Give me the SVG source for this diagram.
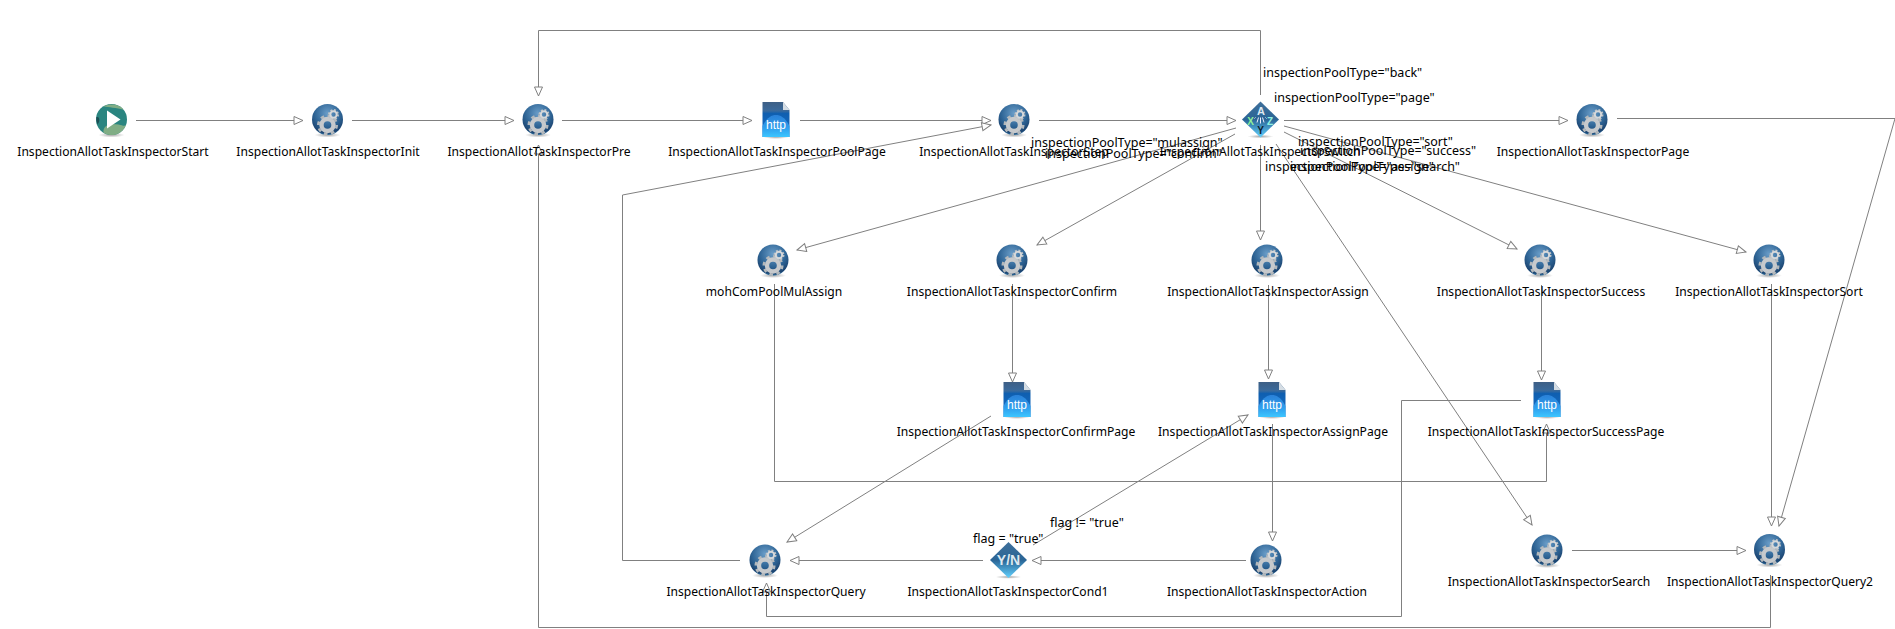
<svg xmlns="http://www.w3.org/2000/svg" xmlns:xlink="http://www.w3.org/1999/xlink" width="1895" height="629" viewBox="0 0 1895 629">
<style>
.bg{fill:#fff}
.e{fill:none;stroke:#808080;stroke-width:1;marker-end:url(#arr)}
text{font-family:"Noto Sans","DejaVu Sans",sans-serif;font-size:12.5px;fill:#000}
.n{text-anchor:middle;font-size:12.1px}
.ic{font-family:"Liberation Sans",sans-serif;font-weight:bold;fill:#fff;text-anchor:middle}
</style>
<defs>
<marker id="arr" markerUnits="userSpaceOnUse" markerWidth="12" markerHeight="12" refX="9.5" refY="5" orient="auto" overflow="visible"><path d="M0.5,1 L9.5,5 L0.5,9 Z" fill="#fff" stroke="#808080" stroke-width="1"/></marker>
<radialGradient id="gb" cx="0.5" cy="0.3" r="0.75"><stop offset="0" stop-color="#6a9dc8"/><stop offset="0.55" stop-color="#2f6596"/><stop offset="0.85" stop-color="#1c4470"/><stop offset="1" stop-color="#3f9ad0"/></radialGradient>
<linearGradient id="gf" x1="0" y1="0" x2="0" y2="1"><stop offset="0" stop-color="#3e5f85"/><stop offset="0.25" stop-color="#3a6a9c"/><stop offset="0.33" stop-color="#0f5fb0"/><stop offset="1" stop-color="#1a70c8"/></linearGradient>
<linearGradient id="gdome" x1="0" y1="0" x2="0" y2="1"><stop offset="0" stop-color="#2a80d8"/><stop offset="0.6" stop-color="#2fa0ee"/><stop offset="1" stop-color="#3cc6ff"/></linearGradient>
<linearGradient id="gd" x1="0" y1="0" x2="0" y2="1"><stop offset="0" stop-color="#3f6f9a"/><stop offset="0.5" stop-color="#2a6596"/><stop offset="1" stop-color="#62d2ff"/></linearGradient>
<radialGradient id="gs"><stop offset="0" stop-color="#000" stop-opacity="0.35"/><stop offset="1" stop-color="#000" stop-opacity="0"/></radialGradient>
<symbol id="gear" viewBox="-20 -20 40 40" width="40" height="40" overflow="visible">
<ellipse cx="0" cy="15.5" rx="13" ry="2.5" fill="url(#gs)"/>
<circle r="15.5" fill="url(#gb)"/>
<circle cx="0" cy="5.5" r="9.2" fill="none" stroke="#b4b8bb" stroke-width="2.6" stroke-dasharray="3.6 3.6"/>
<circle cx="0" cy="5.5" r="6" fill="none" stroke="#c6c9cc" stroke-width="4.4"/>
<circle cx="6" cy="-5" r="4.6" fill="none" stroke="#bfc3c6" stroke-width="1.8" stroke-dasharray="1.9 1.7"/>
<circle cx="6" cy="-5" r="3.2" fill="none" stroke="#d6d8da" stroke-width="2"/>
</symbol>
<symbol id="start" viewBox="-20 -20 40 40" width="40" height="40" overflow="visible">
<ellipse cx="0" cy="15.5" rx="13" ry="2.5" fill="url(#gs)"/>
<circle r="15.5" fill="#2a8580"/>
<path d="M-8,13.3 C-9,5 -1,4 7,5 C11,6 13,7 14.5,5.5 A15.5,15.5 0 0 1 -8,13.3Z" fill="#80ad85"/>
<path d="M-8,-13.3 C-2,-16 8,-16 12,-9.8 C5,-12 -3,-12 -8,-13.3Z" fill="#80ad85"/>
<path d="M-15.3,-2 C-12,-4 -11,2 -14,5 A15.5,15.5 0 0 1 -15.3,-2Z" fill="#1c4f55"/>
<path d="M-4.5,-9 L9,0 L-4.5,9 Z" fill="#fff"/>
</symbol>
<symbol id="http" viewBox="-20 -20 40 40" width="40" height="40" overflow="visible">
<ellipse cx="0" cy="17" rx="13" ry="2" fill="url(#gs)"/>
<path d="M-13.5,-18 L7,-18 L13.5,-10 L13.5,17 L-13.5,17 Z" fill="url(#gf)"/>
<path d="M-13.5,17 L-13.5,6 C-9,-3 -4,-5 0,-5 C4,-5 9,-3 13.5,6 L13.5,17 Z" fill="url(#gdome)"/>
<path d="M7,-18 L13.5,-10 L7,-10 Z" fill="#d5dde4"/>
<text class="ic" x="0" y="9" style="font-size:12px;font-weight:normal">http</text>
</symbol>
<symbol id="xor" viewBox="-20 -20 40 40" width="40" height="40" overflow="visible">
<ellipse cx="0" cy="17" rx="13" ry="1.8" fill="url(#gs)"/>
<path d="M0,-18 L18.5,0 L0,18 L-18.5,0 Z" fill="url(#gd)"/>
<text class="ic" x="0.5" y="-5" style="font-size:11px;fill:#dfe9f2">A</text>
<text class="ic" x="-10" y="5.5" style="font-size:10px;fill:#8ff09a">X</text>
<text class="ic" x="9.5" y="5.5" style="font-size:10px;fill:#8ff0e0">Z</text>
<text class="ic" x="0" y="14" style="font-size:10px;fill:#10202c">Y</text>
<path d="M-3.5,3 L-2,-2 M3.5,3 L2,-2 M0,-2 L0,4 M-6,-1 L-5,-2 M6,-1 L5,-2" stroke="#eef" stroke-width="1" fill="none"/>
</symbol>
<symbol id="cond" viewBox="-20 -20 40 40" width="40" height="40" overflow="visible">
<ellipse cx="0" cy="17" rx="13" ry="1.8" fill="url(#gs)"/>
<path d="M0,-18 L18.5,0 L0,18 L-18.5,0 Z" fill="url(#gd)"/>
<text class="ic" x="0" y="5" style="font-size:14px;fill:#dce8f0">Y/N</text>
</symbol>
</defs>
<rect class="bg" width="1895" height="629"/>
<g id="connectors">
<path class="e" d="M136,120.5H303"/>
<path class="e" d="M352,120.5H514"/>
<path class="e" d="M562,120.5H752"/>
<path class="e" d="M800,120.5H991"/>
<path class="e" d="M1039,120.5H1236"/>
<path class="e" d="M1284,120.5H1568"/>
<path class="e" d="M1617,118.5H1895L1779,526"/>
<path class="e" d="M1260.5,95V30.5H538.5V96"/>
<path class="e" d="M1236,128L797,250"/>
<path class="e" d="M1235,134L1037,245"/>
<path class="e" d="M1260.5,145V240"/>
<path class="e" d="M1284,132L1517,249"/>
<path class="e" d="M1284,126L1746,252"/>
<path class="e" d="M1276,144L1532,525"/>
<path class="e" d="M1771.5,284V526"/>
<path class="e" d="M1572,550.5H1746"/>
<path class="e" d="M1012.5,284V382"/>
<path class="e" d="M1268.5,285V379"/>
<path class="e" d="M1541.5,285V380"/>
<path class="e" d="M774.5,284V481.5H1546.5V424"/>
<path class="e" d="M1521,400.5H1401.5V616.5H766.5V583"/>
<path class="e" d="M1272.5,424V541"/>
<path class="e" d="M991,416L787,542"/>
<path class="e" d="M1246,560.5H1032"/>
<path class="e" d="M983,560.5H790"/>
<path class="e" d="M1033,545L1248,415"/>
<path class="e" d="M740,560.5H622.5V195L991,125"/>
<path class="e" d="M1770.5,575V627.5H538.5V145"/>
</g>
<g id="InspectionAllotTaskInspectorStart"><use href="#start" x="91.5" y="99.5"/><text class="n" x="113" y="156">InspectionAllotTaskInspectorStart</text></g>
<g id="InspectionAllotTaskInspectorInit"><use href="#gear" x="307.5" y="99.5"/><text class="n" x="328" y="156">InspectionAllotTaskInspectorInit</text></g>
<g id="InspectionAllotTaskInspectorPre"><use href="#gear" x="518" y="99.5"/><text class="n" x="539" y="156">InspectionAllotTaskInspectorPre</text></g>
<g id="InspectionAllotTaskInspectorPoolPage"><use href="#http" x="756" y="100"/><text class="n" x="777" y="156">InspectionAllotTaskInspectorPoolPage</text></g>
<g id="InspectionAllotTaskInspectorStep"><use href="#gear" x="994" y="99.5"/><text class="n" x="1014" y="156">InspectionAllotTaskInspectorStep</text></g>
<g id="InspectionAllotTaskInspectorSwitch"><use href="#xor" x="1240.5" y="99.5"/><text class="n" x="1260" y="156">InspectionAllotTaskInspectorSwitch</text></g>
<g id="InspectionAllotTaskInspectorPage"><use href="#gear" x="1572" y="99.5"/><text class="n" x="1593" y="156">InspectionAllotTaskInspectorPage</text></g>
<g id="mohComPoolMulAssign"><use href="#gear" x="753" y="240"/><text class="n" x="774" y="296">mohComPoolMulAssign</text></g>
<g id="InspectionAllotTaskInspectorConfirm"><use href="#gear" x="992" y="240"/><text class="n" x="1012" y="296">InspectionAllotTaskInspectorConfirm</text></g>
<g id="InspectionAllotTaskInspectorAssign"><use href="#gear" x="1247" y="240"/><text class="n" x="1268" y="296">InspectionAllotTaskInspectorAssign</text></g>
<g id="InspectionAllotTaskInspectorSuccess"><use href="#gear" x="1520" y="240"/><text class="n" x="1541" y="296">InspectionAllotTaskInspectorSuccess</text></g>
<g id="InspectionAllotTaskInspectorSort"><use href="#gear" x="1749" y="240"/><text class="n" x="1769" y="296">InspectionAllotTaskInspectorSort</text></g>
<g id="InspectionAllotTaskInspectorConfirmPage"><use href="#http" x="997" y="380"/><text class="n" x="1016" y="436">InspectionAllotTaskInspectorConfirmPage</text></g>
<g id="InspectionAllotTaskInspectorAssignPage"><use href="#http" x="1252" y="380"/><text class="n" x="1273" y="436">InspectionAllotTaskInspectorAssignPage</text></g>
<g id="InspectionAllotTaskInspectorSuccessPage"><use href="#http" x="1527" y="380"/><text class="n" x="1546" y="436">InspectionAllotTaskInspectorSuccessPage</text></g>
<g id="InspectionAllotTaskInspectorQuery"><use href="#gear" x="745" y="540"/><text class="n" x="766" y="596">InspectionAllotTaskInspectorQuery</text></g>
<g id="InspectionAllotTaskInspectorCond1"><use href="#cond" x="988.5" y="540"/><text class="n" x="1008" y="596">InspectionAllotTaskInspectorCond1</text></g>
<g id="InspectionAllotTaskInspectorAction"><use href="#gear" x="1246" y="540"/><text class="n" x="1267" y="596">InspectionAllotTaskInspectorAction</text></g>
<g id="InspectionAllotTaskInspectorSearch"><use href="#gear" x="1527" y="530"/><text class="n" x="1549" y="586">InspectionAllotTaskInspectorSearch</text></g>
<g id="InspectionAllotTaskInspectorQuery2"><use href="#gear" x="1749.5" y="529.5"/><text class="n" x="1770" y="586">InspectionAllotTaskInspectorQuery2</text></g>
<g id="edge-labels">
<text x="1263" y="77">inspectionPoolType="back"</text>
<text x="1274" y="102">inspectionPoolType="page"</text>
<text x="1031" y="147">inspectionPoolType="mulassign"</text>
<text x="1045" y="158">inspectionPoolType="confirm"</text>
<text x="1298" y="146">inspectionPoolType="sort"</text>
<text x="1300" y="155">inspectionPoolType="success"</text>
<text x="1265" y="171">inspectionPoolType="assign"</text>
<text x="1290" y="171">inspectionPoolType="search"</text>
<text x="973" y="543">flag = "true"</text>
<text x="1050" y="527">flag != "true"</text>
</g>
</svg>
